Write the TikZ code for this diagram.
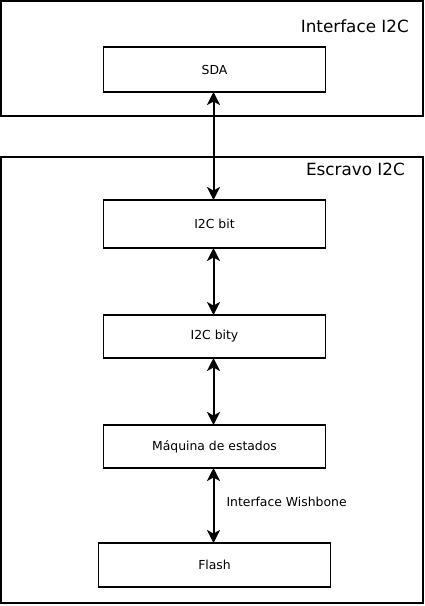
\documentclass[tikz,border=0pt]{standalone}
\usepackage{fontspec}
\setmainfont{DejaVu Sans}
\usetikzlibrary{arrows.meta, positioning}
\tikzset{
  font=\fontsize{12.4}{14}\selectfont,
  frame/.style={draw=black, line width=2pt},
  heading/.style={font=\fontsize{16.8}{19}\selectfont, anchor=base east, inner sep=0pt},
  blockbox/.style={draw=black, line width=1.6pt, minimum width=222pt,
    minimum height=45pt, inner sep=2pt, outer sep=0pt},
  link/.style={{Stealth[length=13pt, width=13pt, inset=3.5pt]}-{Stealth[length=13pt, width=13pt, inset=3.5pt]},
    line width=2pt},
  linklabel/.style={anchor=west, inner sep=0pt},
}
\begin{document}
\begin{tikzpicture}[x=1pt, y=-1pt]
  \useasboundingbox (0,0) rectangle (424,606);

  % ----------------------------------------------------------------
  % Frames
  % ----------------------------------------------------------------
  \draw[frame] (1,1) rectangle (422.5,115.5);
  \node[heading] (titleif) at (409,32) {Interface I2C};

  \draw[frame] (1,157) rectangle (422.5,602.5);
  \node[heading] (titlesl) at (405,175) {Escravo I2C};

  % ----------------------------------------------------------------
  % Blocks
  % ----------------------------------------------------------------
  \node[blockbox] (sda) at (214.5,69.5) {SDA};
  \node[blockbox, below=108pt of sda, minimum height=48pt] (bit) {I2C bit};
  \node[blockbox, below=67pt of bit, minimum height=43pt] (bity) {I2C bity};
  \node[blockbox, below=67pt of bity, minimum height=43pt] (fsm) {Máquina de estados};
  \node[blockbox, below=75pt of fsm, minimum width=232pt, minimum height=44pt] (flash) {Flash};

  % ----------------------------------------------------------------
  % Arrows
  % ----------------------------------------------------------------
  \draw[link] ([xshift=-1pt]sda.south) -- ([xshift=-1pt]bit.north);
  \draw[link] ([xshift=-1pt]bit.south) -- ([xshift=-1pt]bity.north);
  \draw[link] ([xshift=-1pt]bity.south) -- ([xshift=-1pt]fsm.north);
  \draw[link] ([xshift=-1pt]fsm.south) -- ([xshift=-1pt]flash.north)
    node[linklabel, pos=0.45, xshift=12pt] (wb) {Interface Wishbone};

\end{tikzpicture}
\end{document}
